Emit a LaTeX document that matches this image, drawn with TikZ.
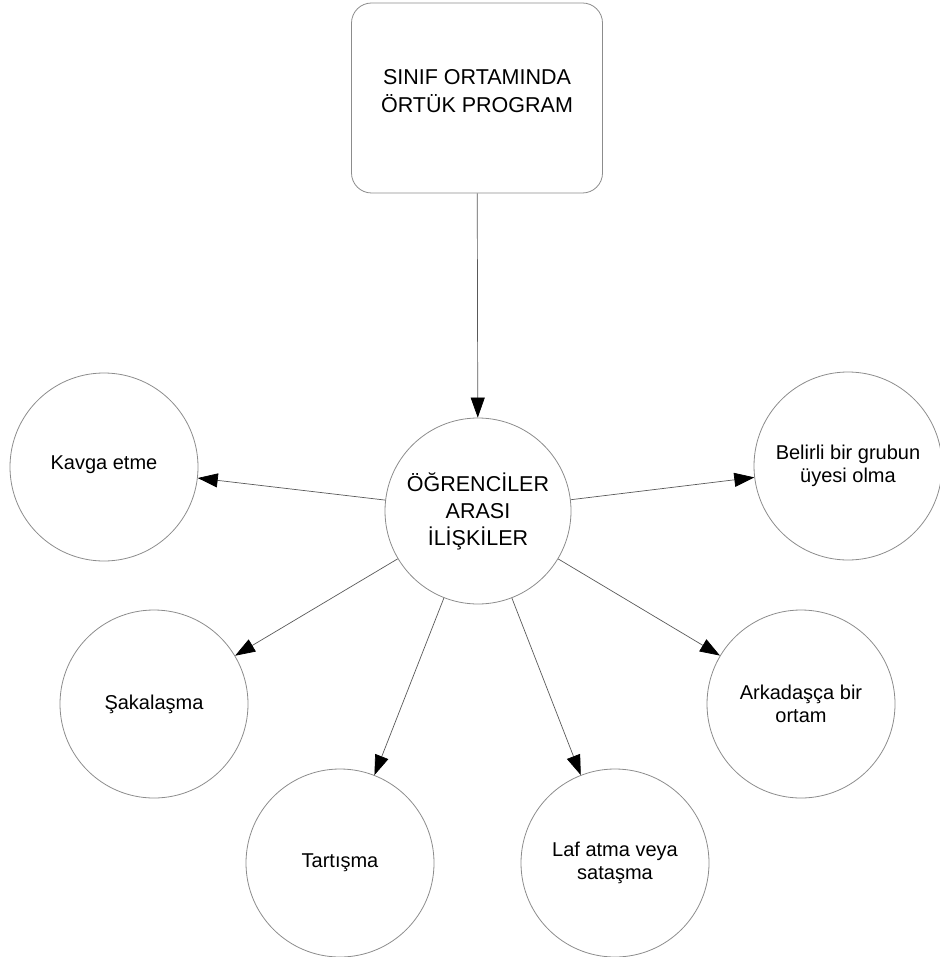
\documentclass[tikz,border=0pt]{standalone}
\usepackage{fontspec}
\setmainfont{Liberation Sans}
\usetikzlibrary{arrows.meta}
\begin{document}
\begin{tikzpicture}[x=1pt, y=-1pt,
    kutu/.style={draw=black!45, line width=0.8pt, rounded corners=20pt,
      minimum width=251pt, minimum height=190pt, align=center,
      font=\fontsize{21.5}{28}\selectfont},
    daire/.style={circle, draw=black!45, line width=0.8pt, minimum size=188pt,
      inner sep=0pt, align=center, font=\fontsize{20}{23.5}\selectfont},
    baglanti/.style={draw=black!65, line width=0.7pt,
      -{Triangle[length=20pt, width=14pt, color=black]}},
  ]
  \useasboundingbox (0,0) rectangle (939,957);

  % ---------------- Kutu und Mitte ----------------------------------
  \node[kutu] (program) at (477,98) {SINIF ORTAMINDA\\ÖRTÜK PROGRAM\\[-14pt]};
  \node[daire, minimum size=186pt, font=\fontsize{21.5}{27}\selectfont]
    (merkez) at (478,511) {ÖĞRENCİLER\\ARASI\\İLİŞKİLER};

  % ---------------- Kreise ringsum ----------------------------------
  \node[daire] (kavga)    at (104,467) {Kavga etme\\[-14pt]};
  \node[daire] (belirli)  at (848,466) {Belirli bir grubun\\üyesi olma};
  \node[daire] (saka)     at (154,704) {Şakalaşma};
  \node[daire] (arkadas)  at (801,704) {Arkadaşça bir\\ortam};
  \node[daire] (tartisma) at (340,863) {Tartışma};
  \node[daire] (laf)      at (615,863) {Laf atma veya\\sataşma};

  % ---------------- Pfeile ------------------------------------------
  \draw[baglanti] (program) -- (merkez);
  \foreach \hedef in {kavga,belirli,saka,arkadas,tartisma,laf}
    \draw[baglanti] (merkez) -- (\hedef);
\end{tikzpicture}
\end{document}
